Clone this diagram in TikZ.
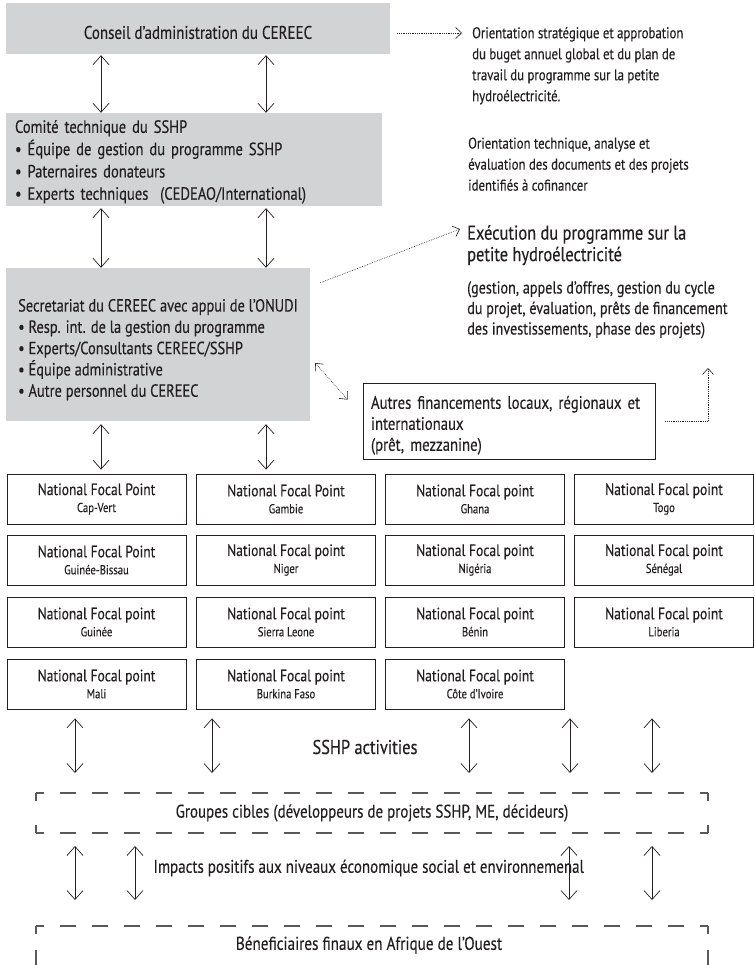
\documentclass[tikz,border=0pt]{standalone}
\usepackage{fontspec}
\setmainfont{PT Sans}[FakeStretch=0.82, FakeBold=0.3]
\usetikzlibrary{arrows.meta,positioning}

\definecolor{ink}{RGB}{35,31,32}
\definecolor{panel}{RGB}{209,211,212}
\definecolor{frame}{RGB}{88,89,91}

\newcommand{\pays}[1]{{\fontsize{13}{14}\selectfont #1}}

\tikzset{
    txt/.style={font=\fontsize{18.3}{22}\selectfont, text=ink},
    panelbox/.style={fill=panel, inner sep=0pt, inner xsep=9pt, align=left, text=ink},
    focal/.style={draw=ink, line width=0.8pt, minimum width=179pt, minimum height=50pt,
        inner sep=0pt, align=center, font=\fontsize{16.5}{17}\selectfont, text=ink},
    note/.style={inner sep=0pt, align=left, anchor=north west, text=ink},
    link/.style={draw=ink, line width=0.7pt,
        {Straight Barb[length=9pt,width=16pt]}-{Straight Barb[length=9pt,width=16pt]}},
    dotlink/.style={draw=ink, line width=0.6pt, dash pattern=on 0.7pt off 1.1pt,
        -{Straight Barb[length=6pt,width=11pt]}},
    dotboth/.style={dotlink, {Straight Barb[length=6pt,width=11pt]}-{Straight Barb[length=6pt,width=11pt]}},
    cornerdash/.style={draw=frame, line width=1.1pt, dash pattern=on 16pt off 16pt, dash phase=8pt},
}

\begin{document}
\begin{tikzpicture}[x=1pt, y=-1pt]
\useasboundingbox (0,0) rectangle (754,965);

% board, committee and secretariat
\node[panelbox, align=center, font=\fontsize{18.3}{22}\selectfont,
    text height=20.7pt, text depth=0pt,
    minimum width=384pt, minimum height=51pt] (conseil) at (198,28.5)
    {Conseil d’administration du CEREEC};
\node[panelbox, font=\fontsize{17.8}{22.3}\selectfont, text width=358pt,
    text height=17.5pt, minimum height=93pt] (comite) at (194,159.5)
    {Comité technique du SSHP\\
     • Équipe de gestion du programme SSHP\\
     • Paternaires donateurs\\
     • Experts techniques~ (CEDEAO/International)};
\node[panelbox, font=\fontsize{17.6}{21.3}\selectfont, inner xsep=3pt, text height=108pt,
    minimum width=304pt, minimum height=153pt] (secr) at (158,344.5)
    {Secretariat du CEREEC avec appui de l’ONUDI\\
     • Resp. int. de la gestion du programme\\
     • Experts/Consultants CEREEC/SSHP\\
     • Équipe administrative\\
     • Autre personnel du CEREEC};

% notes on the right
\node[note, font=\fontsize{15.6}{21}\selectfont] (orient1) at (472,26.8)
    {Orientation stratégique et approbation\\
     du buget annuel global et du plan de\\
     travail du programme sur la petite\\
     hydroélectricité.};
\node[note, font=\fontsize{15.6}{21}\selectfont] (orient2) at (468,137.3)
    {Orientation technique, analyse et\\
     évaluation des documents et des projets\\
     identifiés à cofinancer};
\node[note, font=\fontsize{20}{21.5}\selectfont] (exectitle) at (467,225)
    {Exécution du programme sur la\\
     petite hydroélectricité};
\node[note, font=\fontsize{17.3}{20.5}\selectfont] (execbody) at (467,281)
    {(gestion, appels d’offres, gestion du cycle\\
     du projet, évaluation, prêts de financement\\
     des investissements, phase des projets)};
\node[draw=ink, line width=0.8pt, font=\fontsize{18}{21}\selectfont, text=ink,
    inner sep=0pt, inner xsep=8pt, text width=276pt, text height=21.5pt,
    minimum height=76pt, align=left] (autres) at (509,421)
    {Autres financements locaux, régionaux et\\
     internationaux\\
     (prêt, mezzanine)};

% national focal points
\node[focal] (capvert) at (96.5,499) {National Focal Point\\\pays{Cap-Vert}};
\node[focal] (gambie)  at (286,499)  {National Focal Point\\\pays{Gambie}};
\node[focal] (ghana)   at (475,499)  {National Focal point\\\pays{Ghana}};
\node[focal] (togo)    at (664,499)  {National Focal point\\\pays{Togo}};
\node[focal] (bissau)  at (96.5,560) {National Focal Point\\\pays{Guinée-Bissau}};
\node[focal] (niger)   at (286,560)  {National Focal point\\\pays{Niger}};
\node[focal] (nigeria) at (475,560)  {National Focal point\\\pays{Nigéria}};
\node[focal] (senegal) at (664,560)  {National Focal point\\\pays{Sénégal}};
\node[focal] (guinee)  at (96.5,622) {National Focal point\\\pays{Guinée}};
\node[focal] (sierra)  at (286,622)  {National Focal point\\\pays{Sierra Leone}};
\node[focal] (benin)   at (475,622)  {National Focal point\\\pays{Bénin}};
\node[focal] (liberia) at (664,622)  {National Focal point\\\pays{Liberia}};
\node[focal] (mali)    at (96.5,684) {National Focal point\\\pays{Mali}};
\node[focal] (burkina) at (286,684)  {National Focal point\\\pays{Burkina Faso}};
\node[focal] (civ)     at (475,684)  {National Focal point\\\pays{Côte d’Ivoire}};

% target groups and beneficiaries
\node[txt, font=\fontsize{20}{22}\selectfont] (activites) at (365,747) {SSHP activities};
\node[txt] (groupes) at (372,813) {Groupes cibles (développeurs de projets SSHP, ME, décideurs)};
\node[txt, anchor=west] (impacts) at (150,868)
    {Impacts positifs aux niveaux économique social et environnemenal};
\node[txt, font=\fontsize{18.5}{22}\selectfont] (benef) at (369,945)
    {Béneficiaires finaux en Afrique de l’Ouest};

\coordinate (g-nw) at (36,793);
\coordinate (g-ne) at (708,793);
\coordinate (g-sw) at (36,833);
\coordinate (g-se) at (708,833);
\coordinate (b-nw) at (36,926);
\coordinate (b-ne) at (708,926);

\draw[cornerdash] (g-nw) -- (g-ne);
\draw[cornerdash] (g-sw) -- (g-se);
\draw[cornerdash] (g-nw) -- +(0,20);
\draw[cornerdash] (g-sw) -- +(0,-20);
\draw[cornerdash] (g-ne) -- +(0,20);
\draw[cornerdash] (g-se) -- +(0,-20);
\draw[cornerdash] (b-nw) -- (b-ne);
\draw[cornerdash] (b-nw) -- +(0,39);
\draw[cornerdash] (b-ne) -- +(0,39);

% vertical links
\draw[link, shorten <=1pt] (conseil.south -| 101,0) -- (comite.north -| 101,0);
\draw[link, shorten <=1pt] (conseil.south -| 266,0) -- (comite.north -| 266,0);
\draw[link, shorten <=2pt] (comite.south -| 101,0) -- (secr.north -| 101,0);
\draw[link, shorten <=2pt] (comite.south -| 266,0) -- (secr.north -| 266,0);
\draw[link, shorten <=3pt, shorten >=4pt] (secr.south -| 101,0) -- (capvert.north -| 101,0);
\draw[link, shorten <=3pt, shorten >=4pt] (secr.south -| 266,0) -- (gambie.north -| 266,0);
\draw[link, shorten <=9pt, shorten >=20pt] (mali.south -| 75,0) -- (g-nw -| 75,0);
\draw[link, shorten <=9pt, shorten >=20pt] (burkina.south -| 212,0) -- (g-nw -| 212,0);
\draw[link, shorten <=9pt, shorten >=20pt] (civ.south -| 469,0) -- (g-nw -| 469,0);
\draw[link, shorten <=9pt, shorten >=20pt] (civ.south -| 570,0) -- (g-nw -| 570,0);
\draw[link, shorten <=9pt, shorten >=20pt] (civ.south -| 652,0) -- (g-nw -| 652,0);
\draw[link, shorten <=13pt, shorten >=26pt] (g-sw -| 75,0) -- (b-nw -| 75,0);
\draw[link, shorten <=13pt, shorten >=26pt] (g-sw -| 135,0) -- (b-nw -| 135,0);
\draw[link, shorten <=13pt, shorten >=26pt] (g-sw -| 569,0) -- (b-nw -| 569,0);
\draw[link, shorten <=13pt, shorten >=26pt] (g-sw -| 652,0) -- (b-nw -| 652,0);

% dotted links to the notes
\coordinate (to-orient) at (462,33);
\coordinate (to-exec) at (460,229);
\coordinate (to-up) at (708,368);
\draw[dotlink] ([xshift=7pt,yshift=-4.5pt]conseil.east) -- (to-orient);
\draw[dotlink] ([xshift=10pt,yshift=-15pt]secr.north east) -- (to-exec);
\draw[dotboth] ([xshift=5pt,yshift=-18.5pt]secr.east) -- ([xshift=-15pt,yshift=-17pt]autres.north west);
\draw[dotlink] ([xshift=10pt]autres.east) -| (to-up);
\end{tikzpicture}
\end{document}
